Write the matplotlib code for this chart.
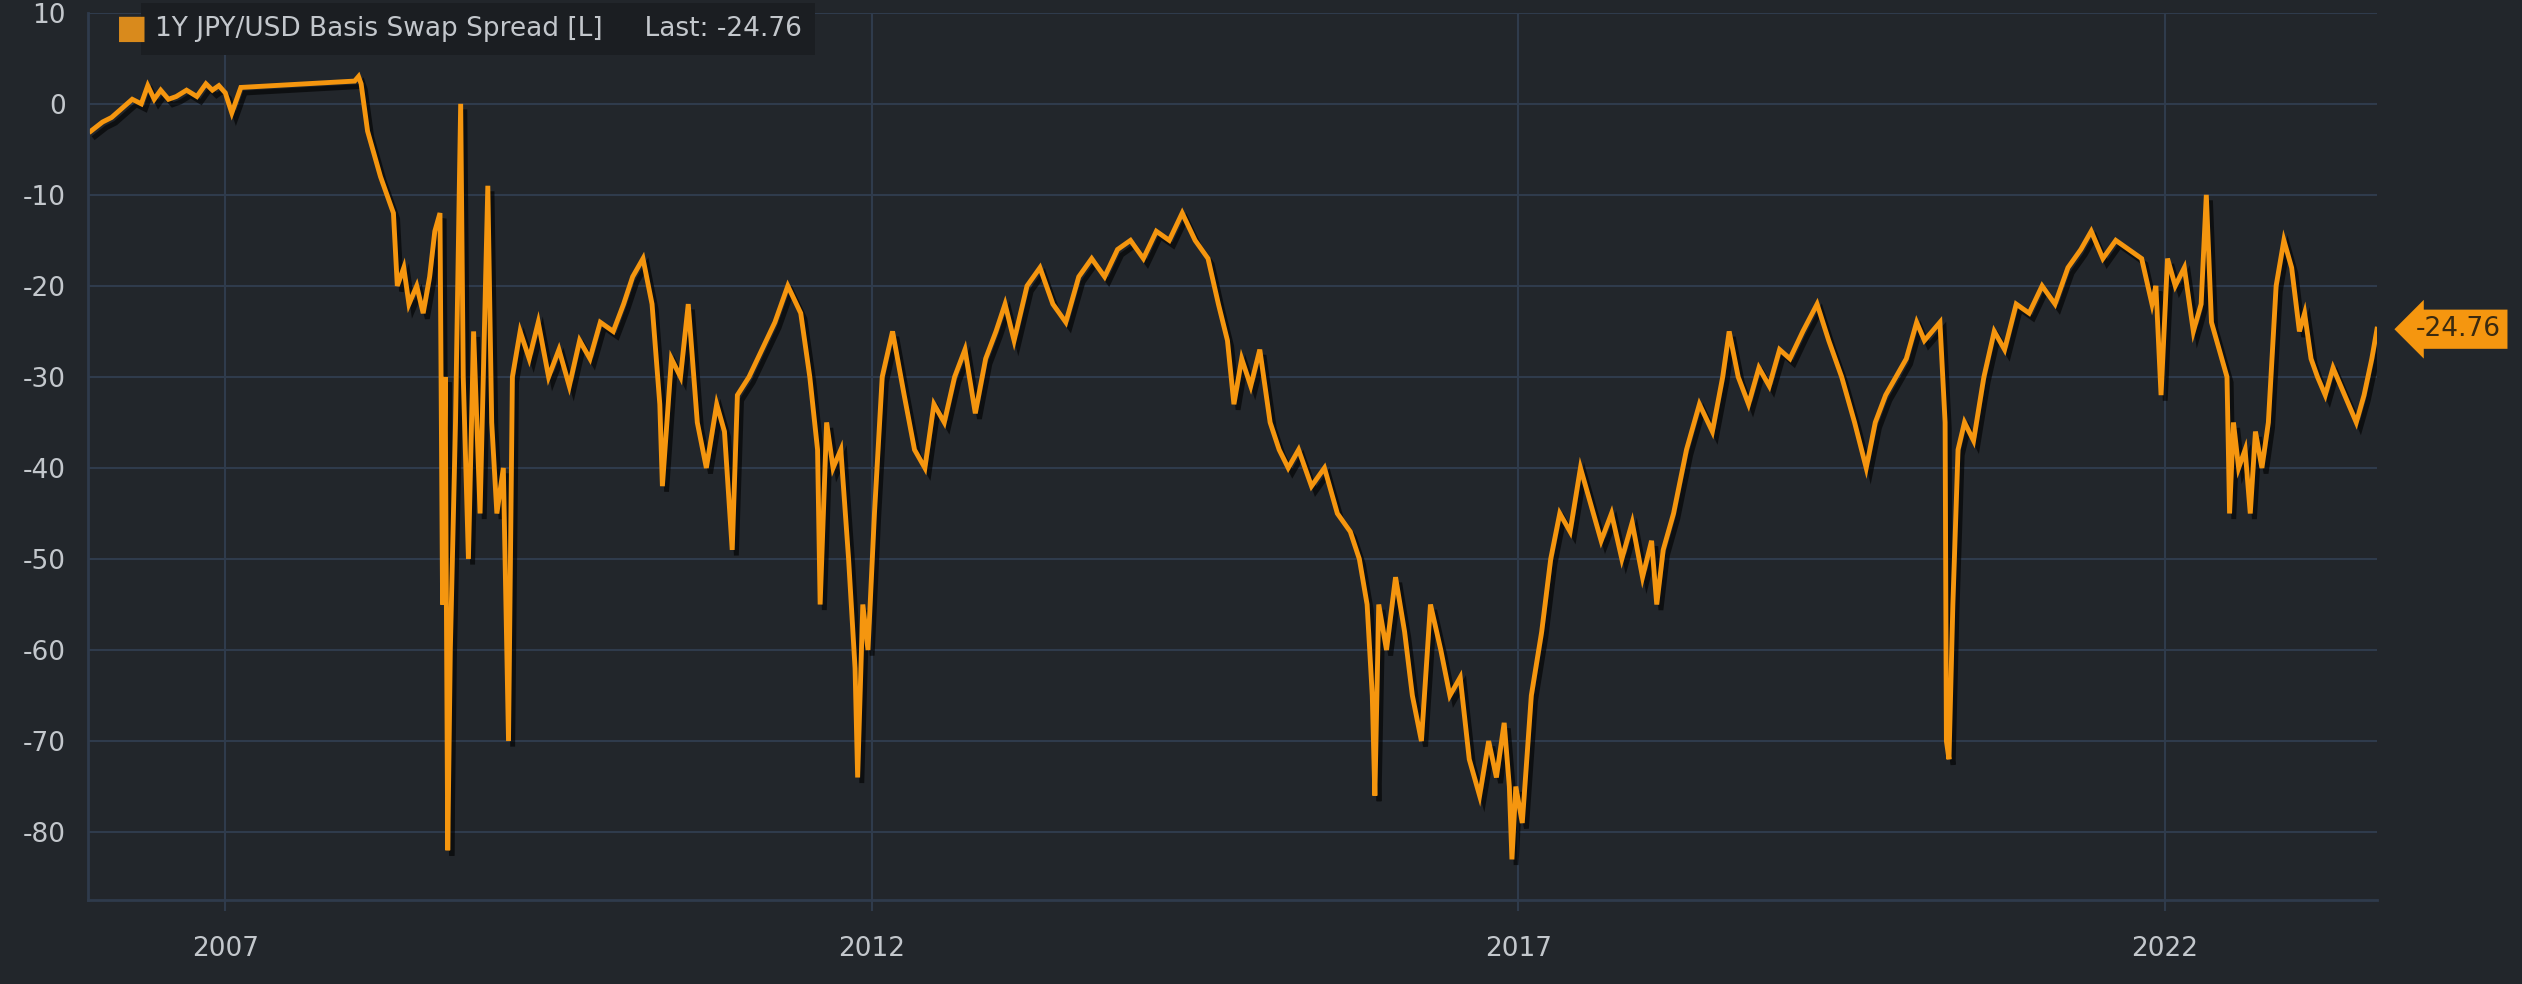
import matplotlib.pyplot as plt
import matplotlib.patheffects as pe
import numpy as np

plt.rcParams['axes.unicode_minus'] = False

# decimal year / basis swap spread (bp)
years = [2005.96, 2006.05, 2006.12, 2006.2, 2006.28, 2006.35, 2006.4, 2006.45, 2006.5, 2006.56, 2006.62,
         2006.7, 2006.78, 2006.85, 2006.9, 2006.95, 2007.0, 2007.05, 2007.12, 2008.0, 2008.03, 2008.05,
         2008.1, 2008.2, 2008.3, 2008.33, 2008.38, 2008.42, 2008.48, 2008.53, 2008.58, 2008.62, 2008.66,
         2008.68, 2008.7, 2008.72, 2008.74, 2008.78, 2008.82, 2008.84, 2008.88, 2008.92, 2008.97, 2009.03,
         2009.06, 2009.1, 2009.15, 2009.19, 2009.22, 2009.28, 2009.35, 2009.42, 2009.5, 2009.58, 2009.66,
         2009.74, 2009.82, 2009.9, 2010.0, 2010.08, 2010.15, 2010.23, 2010.3, 2010.36, 2010.38, 2010.45,
         2010.52, 2010.58, 2010.65, 2010.72, 2010.8, 2010.86, 2010.92, 2010.96, 2011.05, 2011.15, 2011.25,
         2011.35, 2011.45, 2011.52, 2011.58, 2011.6, 2011.65, 2011.7, 2011.76, 2011.82, 2011.87, 2011.89,
         2011.93, 2011.97, 2012.02, 2012.08, 2012.16, 2012.25, 2012.33, 2012.41, 2012.48, 2012.56, 2012.64,
         2012.72, 2012.8, 2012.88, 2012.96, 2013.03, 2013.1, 2013.2, 2013.3, 2013.4, 2013.5, 2013.6,
         2013.7, 2013.8, 2013.9, 2014.0, 2014.1, 2014.2, 2014.3, 2014.4, 2014.5, 2014.6, 2014.68, 2014.75,
         2014.8, 2014.86, 2014.93, 2015.0, 2015.08, 2015.15, 2015.22, 2015.3, 2015.4, 2015.5, 2015.6,
         2015.7, 2015.77, 2015.83, 2015.87, 2015.89, 2015.92, 2015.98, 2016.05, 2016.12, 2016.18, 2016.25,
         2016.32, 2016.4, 2016.47, 2016.55, 2016.62, 2016.7, 2016.77, 2016.83, 2016.89, 2016.93, 2016.95,
         2016.98, 2017.03, 2017.1, 2017.18, 2017.25, 2017.32, 2017.4, 2017.48, 2017.56, 2017.64, 2017.72,
         2017.8, 2017.88, 2017.96, 2018.03, 2018.07, 2018.12, 2018.2, 2018.3, 2018.4, 2018.5, 2018.58,
         2018.63, 2018.7, 2018.78, 2018.86, 2018.94, 2019.02, 2019.1, 2019.2, 2019.31, 2019.4, 2019.5,
         2019.6, 2019.69, 2019.76, 2019.84, 2019.92, 2020.0, 2020.08, 2020.14, 2020.2, 2020.26, 2020.3,
         2020.31, 2020.33, 2020.36, 2020.4, 2020.45, 2020.52, 2020.6, 2020.68, 2020.76, 2020.85, 2020.95,
         2021.05, 2021.15, 2021.25, 2021.35, 2021.43, 2021.52, 2021.62, 2021.72, 2021.82, 2021.9, 2021.93,
         2021.97, 2022.02, 2022.08, 2022.15, 2022.22, 2022.28, 2022.32, 2022.36, 2022.42, 2022.48, 2022.5,
         2022.53, 2022.57, 2022.62, 2022.66, 2022.7, 2022.75, 2022.8, 2022.86, 2022.92, 2022.98, 2023.04,
         2023.08, 2023.13, 2023.18, 2023.24, 2023.3, 2023.36, 2023.42, 2023.48, 2023.54, 2023.6, 2023.64]
spread = [-3, -2, -1.5, -0.5, 0.5, 0, 2, 0.5, 1.5, 0.5, 0.8,
          1.5, 0.8, 2.2, 1.5, 2, 1.2, -1, 1.8, 2.5, 3, 2.2,
          -3, -8, -12, -20, -18, -22, -20, -23, -19, -14, -12,
          -55, -30, -82, -60, -35, 0, -30, -50, -25, -45, -9,
          -35, -45, -40, -70, -30, -25, -28, -24, -30, -27, -31,
          -26, -28, -24, -25, -22, -19, -17, -22, -33, -42, -28,
          -30, -22, -35, -40, -33, -36, -49, -32, -30, -27, -24,
          -20, -23, -30, -38, -55, -35, -40, -38, -50, -62, -74,
          -55, -60, -45, -30, -25, -32, -38, -40, -33, -35, -30,
          -27, -34, -28, -25, -22, -26, -20, -18, -22, -24, -19,
          -17, -19, -16, -15, -17, -14, -15, -12, -15, -17, -22, -26,
          -33, -28, -31, -27, -35, -38, -40, -38, -42, -40, -45,
          -47, -50, -55, -65, -76, -55, -60, -52, -58, -65, -70,
          -55, -60, -65, -63, -72, -76, -70, -74, -68, -75, -83,
          -75, -79, -65, -58, -50, -45, -47, -40, -44, -48, -45,
          -50, -46, -52, -48, -55, -49, -45, -38, -33, -36, -30,
          -25, -30, -33, -29, -31, -27, -28, -25, -22, -26, -30,
          -35, -40, -35, -32, -30, -28, -24, -26, -25, -24, -35,
          -70, -72, -55, -38, -35, -37, -30, -25, -27, -22, -23,
          -20, -22, -18, -16, -14, -17, -15, -16, -17, -22, -20,
          -32, -17, -20, -18, -25, -22, -10, -24, -27, -30, -45,
          -35, -40, -38, -45, -36, -40, -35, -20, -15, -18, -25,
          -23, -28, -30, -32, -29, -31, -33, -35, -32, -28, -24.76]

bg = "#22262b"
grid_c = "#2f3b4c"
line_c = "#f5960f"
text_c = "#c3c7cc"

fig = plt.figure(figsize=(25.22, 9.84), dpi=100, facecolor=bg)
ax = fig.add_axes([0.035, 0.085, 0.9075, 0.902], facecolor=bg)

ax.plot(years, spread, color=line_c, lw=3.5, solid_joinstyle="miter",
        path_effects=[pe.SimpleLineShadow(offset=(3, -4), shadow_color="black", alpha=0.6), pe.Normal()])

ax.set_xlim(2005.94, 2023.64)
ax.set_ylim(-87.5, 10)
ax.set_yticks(np.arange(-80, 11, 10))
ax.set_xticks([2007, 2012, 2017, 2022])
ax.set_xticklabels(["2007", "2012", "2017", "2022"])
ax.grid(color=grid_c, lw=1.5)
for s in ["top", "right"]:
    ax.spines[s].set_visible(False)
for s in ["left", "bottom"]:
    ax.spines[s].set_color(grid_c)
    ax.spines[s].set_linewidth(2)
ax.tick_params(colors=text_c, labelsize=19, length=0, pad=16)
ax.tick_params(axis="x", pad=18, length=8, color=grid_c, width=1.5)
ax.set_axisbelow(True)

# legend box
ax.text(0.029, 0.982, "1Y JPY/USD Basis Swap Spread [L]     Last: -24.76", transform=ax.transAxes,
        color=text_c, fontsize=19, va="center", zorder=5,
        bbox=dict(boxstyle="square,pad=0.5", facecolor="#1b1e22", edgecolor="none"))
ax.text(0.012, 0.982, "\u25A0", transform=ax.transAxes, color="#d98a1c", fontsize=24, va="center",
        zorder=6)

# last value tag
ax.annotate(f"{spread[-1]:.2f}", xy=(years[-1], spread[-1]), xycoords="data",
            xytext=(28, 0), textcoords="offset points", color="#3a2a10", fontsize=19, va="center",
            annotation_clip=False,
            bbox=dict(boxstyle="larrow,pad=0.25", facecolor=line_c, edgecolor="none"))

fig.savefig("out.png", dpi=100, facecolor=bg)
